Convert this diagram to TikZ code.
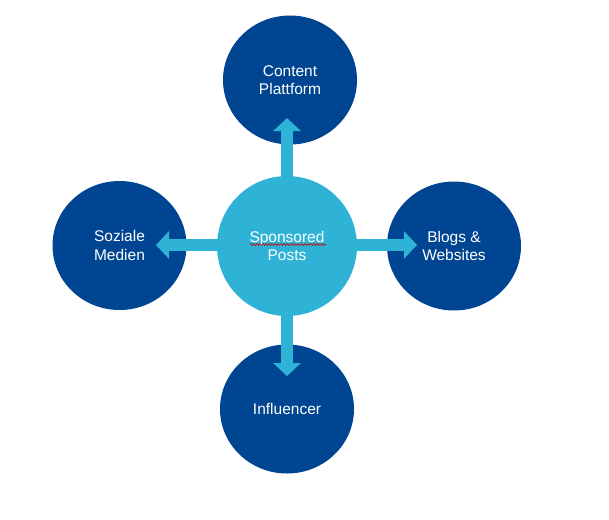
\documentclass[tikz,border=0pt]{standalone}
\usepackage{fontspec}
\setmainfont{Liberation Sans}
\usetikzlibrary{arrows.meta,decorations.pathmorphing,shapes.geometric}
\definecolor{darkblue}{RGB}{0,69,145}
\definecolor{lightblue}{RGB}{46,179,215}
\tikzset{
  outer/.style={ellipse, fill=darkblue, minimum width=134pt, minimum height=129pt, inner sep=0pt,
    text=white, font=\fontsize{15.5}{18.5}\selectfont, align=center},
  hub/.style={circle, fill=lightblue, minimum size=140pt, inner sep=0pt,
    text=white, font=\fontsize{15.5}{18.5}\selectfont, align=center},
  blockarrow/.style={draw=lightblue, line width=12.5pt,
    -{Triangle[width=27pt,length=13pt,fill=lightblue]}},
}
\begin{document}
\begin{tikzpicture}[x=1pt,y=-1pt]
\useasboundingbox (0,0) rectangle (609,519);
\fill[white] (0,0) rectangle (609,519);
\node[outer] (top) at (290,80) {Content\\Plattform};
\node[outer] (left) at (119.5,245.5) {Soziale\\Medien};
\node[outer] (right) at (454,246) {Blogs \&\\Websites};
\node[outer] (bottom) at (287,409) {Influencer};
\coordinate (c0) at (287,245);
\coordinate (tT) at (287,118);
\coordinate (tL) at (156,245);
\coordinate (tR) at (417,245);
\coordinate (tB) at (287,376);
\draw[blockarrow] (c0) -- (tT);
\draw[blockarrow] (c0) -- (tL);
\draw[blockarrow] (c0) -- (tR);
\draw[blockarrow] (c0) -- (tB);
\node[hub] (c) at (287,246) {Sponsored\\Posts};
\coordinate (u1) at (250,244.5);
\coordinate (u2) at (326,244.5);
\draw[red!80!black, line width=0.6pt, decorate, decoration={snake, amplitude=0.9pt, segment length=3pt}] (u1) -- (u2);
\end{tikzpicture}
\end{document}
